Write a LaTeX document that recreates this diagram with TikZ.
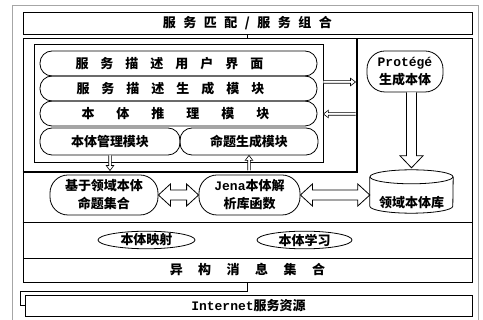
\documentclass[tikz,border=0pt]{standalone}
\usepackage{fontspec}
\newfontfamily\cjk{Noto Sans CJK SC}
\newfontfamily\lmono{Liberation Mono}
\usetikzlibrary{arrows.meta,calc,shapes.geometric}
\newcommand\spreadtext[2]{\def\sprgap{#1}\sprfirst#2\relax}
\def\sprfirst#1{\ifx#1\relax\else#1\expandafter\sprnext\fi}
\def\sprnext#1{\ifx#1\relax\else\kern\sprgap#1\expandafter\sprnext\fi}
\begin{document}
\begin{tikzpicture}[x=1pt,y=-1pt,
  ln/.style={line width=0.8pt},
  bx/.style={draw, ln, rectangle, inner sep=0pt, font=\cjk\bfseries\fontsize{13}{15}\selectfont},
  pill/.style={bx, rounded corners=12pt},
  blob/.style={bx, rounded corners=18pt, align=center, font=\cjk\bfseries\fontsize{13}{18}\selectfont},
  sm/.style={draw, line width=0.6pt, fill=white, line join=miter},
  blk/.style={draw, ln, fill=white, line join=miter},
  outerframe/.style={draw=gray!70, line width=0.6pt},
  heavy/.style={line width=2.5pt}
]
\useasboundingbox (0,0) rectangle (483,320);
\draw[outerframe] (12,320) -- (12,5) -- (478,5) -- (478,320);

% main layers
\node[bx, minimum width=449pt, minimum height=22pt] (top) at (247.5,23) {\spreadtext{7.5pt}{服务匹配/服务组合}};
\node[bx, minimum width=449pt, minimum height=220pt] (main) at (247.5,148) {};
\node[bx, minimum width=449pt, minimum height=24pt] (het) at (247.5,270) {\spreadtext{15.5pt}{异构消息集合}};
\node[bx, minimum width=447pt, minimum height=21pt] (inet) at (248.5,305.5) {{\lmono Internet}服务资源};
\draw[ln] (top.south) -- (main.north);
\coordinate (bend) at (20,291);
\draw[ln] (het.south) |- (bend) |- (inet.west);
\coordinate (div) at (0,222);
\draw[ln] (main.west |- div) -- (main.east |- div);

% thick L frame
\coordinate (thk) at (357,172);
\draw[heavy] (main.west |- thk) -- (thk) -- (thk |- main.north);

% inner box and modules
\node[bx, minimum width=289pt, minimum height=118pt] (inner) at (178.5,103) {};
\node[pill, minimum width=277pt, minimum height=25pt] (r1) at (178.5,63.5) {\spreadtext{12pt}{服务描述用户界面}\kern18pt};
\node[pill, minimum width=277pt, minimum height=25pt] (r2) at (178.5,88.5) {\spreadtext{12pt}{服务描述生成模块}\kern16pt};
\node[pill, minimum width=277pt, minimum height=25pt] (r3) at (178.5,113.5) {\spreadtext{22pt}{本体推理模块}\kern6pt};
\node[pill, minimum width=140pt, minimum height=27pt] (r4a) at (110,141.5) {本体管理模块};
\node[pill, minimum width=138pt, minimum height=27pt] (r4b) at (249,141.5) {命题生成模块};

% small double-line arrows
\coordinate (ya) at (0,82);
\coordinate (yb) at (0,114);
\coordinate (A1) at (inner.east |- ya);
\coordinate (B1) at ($(thk |- ya)+(-1.5,0)$);
\draw[sm] ($(A1)+(0,-1.3)$) -- ($(B1)+(-5,-1.3)$) -- ++(0,-2.5) -- (B1) -- ($(B1)+(-5,3.8)$) -- ++(0,-2.5) -- ($(A1)+(0,1.3)$);
\coordinate (A2) at (inner.east |- yb);
\coordinate (B2) at ($(thk |- yb)+(-1.5,0)$);
\draw[sm] ($(B2)+(0,-1.3)$) -- ($(A2)+(5,-1.3)$) -- ++(0,-2.5) -- (A2) -- ($(A2)+(5,3.8)$) -- ++(0,-2.5) -- ($(B2)+(0,1.3)$);
\coordinate (T1) at ($(r4a.south |- thk)+(0,-1.5)$);
\draw[sm] ($(r4a.south)+(-1.3,0)$) -- ($(T1)+(-1.3,-5)$) -- ++(-2.5,0) -- (T1) -- ($(T1)+(3.8,-5)$) -- ++(-2.5,0) -- ($(r4a.south)+(1.3,0)$);
\coordinate (S1) at ($(r4b.south |- thk)+(0,-1.5)$);
\draw[sm] ($(S1)+(-1.3,0)$) -- ($(r4b.south)+(-1.3,5)$) -- ++(-2.5,0) -- (r4b.south) -- ($(r4b.south)+(3.8,5)$) -- ++(-2.5,0) -- ($(S1)+(1.3,0)$);

% Protege
\node[blob, minimum width=76pt, minimum height=41pt] (prot) at (405,71.5) {{\lmono Protégé}\\生成本体};

% cylinder
\node[minimum width=83pt, minimum height=43pt, inner sep=0pt] (cyl) at (411.5,191.5) {};
\draw[ln, fill=white] ($(cyl.north west)+(0,7)$) -- ($(cyl.south west)+(0,-7)$) arc[start angle=180, end angle=360, x radius=41.5pt, y radius=7pt] -- ($(cyl.north east)+(0,7)$);
\draw[ln] ($(cyl.north)+(0,7)$) ellipse[x radius=41.5pt, y radius=7pt];
\node[font=\cjk\bfseries\fontsize{13}{15}\selectfont, inner sep=0pt] (cyltxt) at ($(cyl.center)+(0,11)$) {领域本体库};

% big arrow down
\draw[blk] ($(cyl.north |- prot.south)+(-5,0)$) -- ($(cyl.north)+(-5,-14)$) -- ($(cyl.north)+(-11.5,-14)$) -- ($(cyl.north)+(0,-2)$) -- ($(cyl.north)+(11.5,-14)$) -- ($(cyl.north)+(5,-14)$) -- ($(cyl.north |- prot.south)+(5,0)$);

% middle nodes
\node[blob, minimum width=108pt, minimum height=40pt] (base) at (104,195) {基于领域本体\\命题集合};
\node[blob, minimum width=101pt, minimum height=40pt] (jena) at (249.5,195) {{\lmono Jena}本体解\\析库函数};

\draw[blk] (base.east) -- ++(12,-11) -- ++(0,6) -- ($(jena.west)+(-12,-5)$) -- ++(0,-6) -- (jena.west) -- ++(-12,11) -- ++(0,-6) -- ($(base.east)+(12,5)$) -- ++(0,6) -- cycle;
\coordinate (cw) at (cyl.west |- jena.east);
\draw[blk] (jena.east) -- ++(12,-11) -- ++(0,6) -- ($(cw)+(-12,-5)$) -- ++(0,-6) -- (cw) -- ++(-12,11) -- ++(0,-6) -- ($(jena.east)+(12,5)$) -- ++(0,6) -- cycle;

% ellipses
\node[bx, ellipse, minimum width=97pt, minimum height=17pt] (map) at (146.5,240) {本体映射};
\node[bx, ellipse, minimum width=95pt, minimum height=17pt] (learn) at (304.5,240) {本体学习};
\end{tikzpicture}
\end{document}
